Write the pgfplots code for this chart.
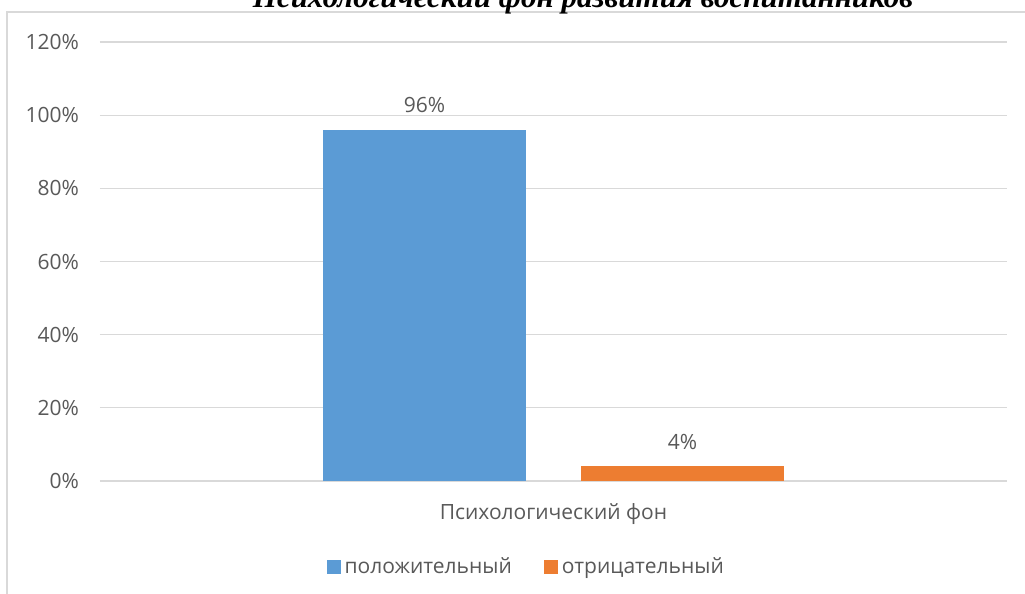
\documentclass[border=0pt]{standalone}
\usepackage{fontspec}
\setmainfont{Open Sans}
\newfontfamily\titlefont{Liberation Serif}
\usepackage{pgfplots}
\pgfplotsset{compat=1.18}
\definecolor{cblue}{HTML}{5B9BD5}
\definecolor{corange}{HTML}{ED7D31}
\definecolor{tgray}{HTML}{595959}
\definecolor{ggray}{HTML}{D9D9D9}
\begin{document}
\begin{tikzpicture}
\draw[ggray, line width=0.6pt] (-46.5pt,-80pt) -- (-46.5pt,234.5pt) -- (480pt,234.5pt);
\node[anchor=base, inner sep=0pt, font=\titlefont\fontsize{15.5}{18}\selectfont\bfseries\itshape] at (241.5pt,236.8pt) {Психологический фон развития воспитанников};
\begin{axis}[
  at={(0,0)}, anchor=south west,
  width=453.5pt, height=219.5pt, scale only axis,
  ybar=27.5pt, bar width=101.5pt,
  xmin=-0.5, xmax=0.5,
  ymin=0, ymax=120,
  xtick={0}, xticklabels={Психологический фон},
  ytick={0,20,...,120},
  yticklabel={\pgfmathprintnumber{\tick}\%},
  /pgf/number format/assume math mode=true,
  major tick length=0pt,
  axis line style={draw=none},
  ymajorgrids, grid style={ggray, line width=0.6pt},
  tick label style={font=\fontsize{10.5}{12}\selectfont, text=tgray},
  yticklabel style={xshift=-7pt},
  xticklabel style={yshift=-7.5pt},
  nodes near coords={\pgfmathprintnumber{\pgfplotspointmeta}\%},
  nodes near coords style={font=\fontsize{10.5}{12}\selectfont, text=tgray, yshift=5pt},
  legend style={at={(0.471,-0.196)}, anchor=center, draw=none, legend columns=2,
    font=\fontsize{10.5}{12}\selectfont, text=tgray,
    /tikz/every even column/.append style={column sep=14pt}},
  legend image code/.code={\fill[#1] (0pt,-3.5pt) rectangle (7pt,3.5pt);},
]
\addplot[fill=cblue, draw=none] coordinates {(0,96)};
\addplot[fill=corange, draw=none] coordinates {(0,4)};
\legend{положительный, отрицательный}
\end{axis}
\pgfresetboundingbox
\path[use as bounding box] (-50pt,-56.5pt) rectangle (462.5pt,240.5pt);
\end{tikzpicture}
\end{document}
